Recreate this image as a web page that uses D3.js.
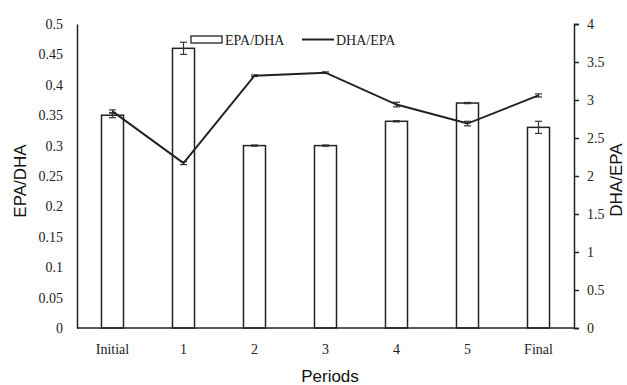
<!DOCTYPE html>
<html>
<head>
<meta charset="utf-8">
<script src="https://cdn.jsdelivr.net/npm/d3@7"></script>
<style>
  body { margin: 0; background: #fff; }
  svg { display: block; }
  .title { font-family: "Liberation Sans", Arial, sans-serif; font-size: 17px; fill: #111; }
</style>
</head>
<body>
<svg width="627" height="385"></svg>
<script>
const periods = ["Initial", "1", "2", "3", "4", "5", "Final"];
const epaDha = [0.35, 0.46, 0.30, 0.30, 0.34, 0.37, 0.33];
const epaDhaErr = [0.004, 0.01, 0.001, 0.001, 0.001, 0.001, 0.01];
const dhaEpa = [2.85, 2.17, 3.32, 3.36, 2.94, 2.69, 3.06];
const dhaEpaErr = [0.02, 0.02, 0.01, 0.01, 0.03, 0.03, 0.02];
const leftTicks = [0, 0.05, 0.1, 0.15, 0.2, 0.25, 0.3, 0.35, 0.4, 0.45, 0.5];
const rightTicks = [0, 0.5, 1, 1.5, 2, 2.5, 3, 3.5, 4];

const svg = d3.select("svg");
const plotL = 77, plotR = 574, plotT = 24, plotB = 328;

const x = d3.scaleBand().domain(periods).range([plotL, plotR]).paddingInner(0.69).paddingOuter(0.345);
const yL = d3.scaleLinear().domain([0, 0.5]).range([plotB, plotT]);
const yR = d3.scaleLinear().domain([0, 4]).range([plotB, plotT]);
const cx = d => x(d) + x.bandwidth() / 2;

// bars
svg.append("g").selectAll("rect")
  .data(periods)
  .join("rect")
  .attr("x", d => x(d))
  .attr("y", (d, i) => yL(epaDha[i]))
  .attr("width", x.bandwidth())
  .attr("height", (d, i) => plotB - yL(epaDha[i]))
  .attr("fill", "#fff")
  .attr("stroke", "#222")
  .attr("stroke-width", 1.5);

// error bars
const errG = svg.append("g").attr("stroke", "#333").attr("stroke-width", 1.2);
function errBar(xc, y0, y1) {
  errG.append("line").attr("x1", xc).attr("x2", xc).attr("y1", y0).attr("y2", y1);
  errG.append("line").attr("x1", xc - 3.5).attr("x2", xc + 3.5).attr("y1", y0).attr("y2", y0);
  errG.append("line").attr("x1", xc - 3.5).attr("x2", xc + 3.5).attr("y1", y1).attr("y2", y1);
}
periods.forEach((p, i) => errBar(cx(p), yL(epaDha[i] - epaDhaErr[i]), yL(epaDha[i] + epaDhaErr[i])));

// line
const line = d3.line().x((d, i) => cx(periods[i])).y(d => yR(d));
svg.append("path").datum(dhaEpa)
  .attr("d", line)
  .attr("fill", "none")
  .attr("stroke", "#222")
  .attr("stroke-width", 2);
periods.forEach((p, i) => errBar(cx(p), yR(dhaEpa[i] - dhaEpaErr[i]), yR(dhaEpa[i] + dhaEpaErr[i])));

// axes
const xAxis = svg.append("g").attr("transform", `translate(0,${plotB})`)
  .call(d3.axisBottom(x).tickSize(0).tickPadding(16));
const lAxis = svg.append("g").attr("transform", `translate(${plotL},0)`)
  .call(d3.axisLeft(yL).tickValues(leftTicks).tickSize(0).tickPadding(14).tickFormat(d3.format("")));
const rAxis = svg.append("g").attr("transform", `translate(${plotR},0)`)
  .call(d3.axisRight(yR).tickValues(rightTicks).tickSize(5).tickPadding(8).tickFormat(d3.format("")));
[xAxis, lAxis, rAxis].forEach(a => {
  a.attr("font-family", null).attr("font-size", null);
  a.selectAll(".tick text")
    .style("font-family", "'Liberation Serif', 'Times New Roman', serif")
    .style("font-size", "14px")
    .attr("fill", "#222");
  a.select(".domain").attr("stroke", "#222").attr("stroke-width", 1.5);
  a.selectAll(".tick line").attr("stroke", "#222").attr("stroke-width", 1.5);
});
xAxis.select(".domain").attr("d", `M${plotL},0H${plotR}`);

// titles
svg.append("text").attr("class", "title")
  .attr("transform", `translate(26,181) rotate(-90)`)
  .attr("text-anchor", "middle").text("EPA/DHA");
svg.append("text").attr("class", "title")
  .attr("transform", `translate(622,180) rotate(-90)`)
  .attr("text-anchor", "middle").text("DHA/EPA");
svg.append("text").attr("class", "title")
  .attr("x", 330).attr("y", 382)
  .attr("text-anchor", "middle").text("Periods");

// legend
const lg = svg.append("g").style("font-family", "'Liberation Serif', 'Times New Roman', serif").style("font-size", "14px");
lg.append("rect").attr("x", 191).attr("y", 36).attr("width", 31).attr("height", 7)
  .attr("fill", "#fff").attr("stroke", "#222").attr("stroke-width", 1.3);
lg.append("text").attr("x", 225).attr("y", 44.5).attr("fill", "#222").text("EPA/DHA");
lg.append("line").attr("x1", 302).attr("x2", 334).attr("y1", 39.5).attr("y2", 39.5)
  .attr("stroke", "#222").attr("stroke-width", 2);
lg.append("text").attr("x", 336).attr("y", 44.5).attr("fill", "#222").text("DHA/EPA");
</script>
</body>
</html>
